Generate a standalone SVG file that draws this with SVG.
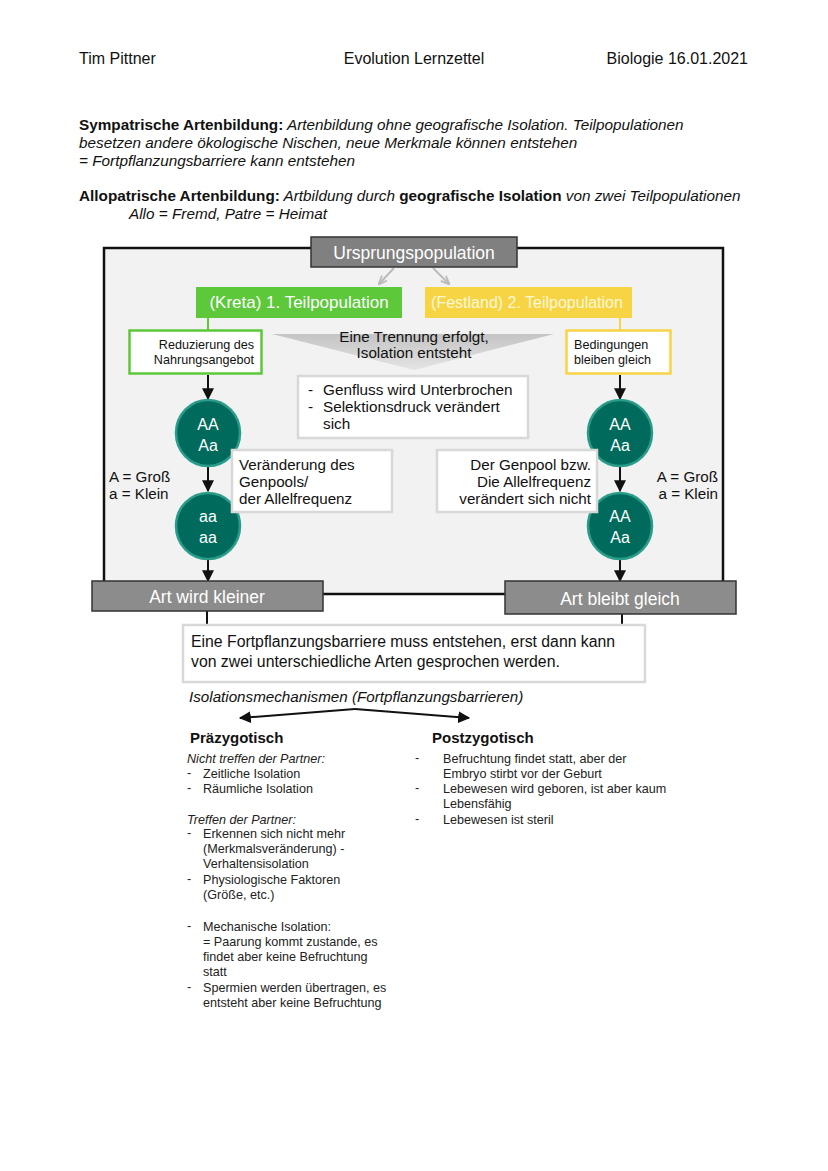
<svg xmlns="http://www.w3.org/2000/svg" width="828" height="1171" viewBox="0 0 828 1171">
<defs>
<style>
text{font-family:"Liberation Sans",Arial,Helvetica,sans-serif;fill:#111}
.h{font-size:16px}
.p{font-size:15.3px}
.b{font-weight:bold}
.i{font-style:italic}
.lst{font-size:12.6px;fill:#222}
.circ{fill:#006a5c;stroke:#2a9d8a;stroke-width:2.5}
.ct{font-size:16px;fill:#fff;text-anchor:middle}
.wbox{fill:#fff;stroke:#d8d8d8;stroke-width:2.5}
.gbox{fill:#8c8c8c;stroke:#333;stroke-width:1.5}
.gt{font-size:17.5px;fill:#fff;text-anchor:middle}
.tt{font-size:17px;fill:#fff;text-anchor:middle}
.m{font-size:15.2px}
.ln{stroke:#111;stroke-width:2;fill:none}
</style>
<marker id="ah2" viewBox="0 0 10 10" refX="9" refY="5" markerWidth="12" markerHeight="12" orient="auto" markerUnits="userSpaceOnUse">
<path d="M0,0 L10,5 L0,10 z" fill="#111"/>
</marker>
<marker id="ahg" viewBox="0 0 10 10" refX="9" refY="5" markerWidth="9" markerHeight="9" orient="auto" markerUnits="userSpaceOnUse">
<path d="M0,1 L10,5 L0,9" fill="none" stroke="#bbb" stroke-width="2"/>
</marker>
<linearGradient id="tri" x1="0" y1="0" x2="0" y2="1">
<stop offset="0" stop-color="#c4c4c4"/>
<stop offset="1" stop-color="#e4e4e4"/>
</linearGradient>
</defs>
<rect width="828" height="1171" fill="#fff"/>

<g id="header">
<text class="h" x="79" y="64">Tim Pittner</text>
<text class="h" x="414" y="64" text-anchor="middle">Evolution Lernzettel</text>
<text class="h" x="748" y="64" text-anchor="end">Biologie 16.01.2021</text>
</g>

<g id="intro">
<text class="p" x="79" y="130"><tspan class="b">Sympatrische Artenbildung:</tspan><tspan class="i"> Artenbildung ohne geografische Isolation. Teilpopulationen</tspan></text>
<text class="p i" x="79" y="148">besetzen andere ökologische Nischen, neue Merkmale können entstehen</text>
<text class="p i" x="79" y="166">= Fortpflanzungsbarriere kann entstehen</text>
<text class="p" x="79" y="201"><tspan class="b">Allopatrische Artenbildung:</tspan><tspan class="i"> Artbildung durch </tspan><tspan class="b">geografische Isolation</tspan><tspan class="i"> von zwei Teilpopulationen</tspan></text>
<text class="p i" x="129" y="219">Allo = Fremd, Patre = Heimat</text>
</g>

<g id="frame">
<rect x="104" y="248" width="619" height="346" fill="#f2f2f2" stroke="#111" stroke-width="2.5"/>
</g>

<g id="trennung">
<path d="M272,334 L554,334 L414,370 Z" fill="url(#tri)"/>
<text class="m" x="414" y="342" text-anchor="middle">Eine Trennung erfolgt,</text>
<text class="m" x="414" y="358" text-anchor="middle">Isolation entsteht</text>
</g>

<g id="connectors">
<line x1="394" y1="268" x2="379" y2="284" stroke="#bbb" stroke-width="2" marker-end="url(#ahg)"/>
<line x1="433" y1="268" x2="449" y2="284" stroke="#bbb" stroke-width="2" marker-end="url(#ahg)"/>
<line x1="208" y1="318" x2="208" y2="330" stroke="#5cc83a" stroke-width="2"/>
<line x1="620" y1="318" x2="620" y2="330" stroke="#f7d443" stroke-width="2"/>
<line class="ln" x1="208" y1="375" x2="208" y2="399" marker-end="url(#ah2)"/>
<line class="ln" x1="208" y1="467" x2="208" y2="491" marker-end="url(#ah2)"/>
<line class="ln" x1="208" y1="560" x2="208" y2="581" marker-end="url(#ah2)"/>
<line class="ln" x1="620" y1="375" x2="620" y2="399" marker-end="url(#ah2)"/>
<line class="ln" x1="620" y1="467" x2="620" y2="491" marker-end="url(#ah2)"/>
<line class="ln" x1="620" y1="560" x2="620" y2="581" marker-end="url(#ah2)"/>
<line class="ln" x1="207" y1="611" x2="207" y2="626"/>
<line class="ln" x1="622" y1="614" x2="622" y2="626"/>
<path class="ln" d="M355,709 L240,718" stroke-width="2.2" marker-end="url(#ah2)"/>
<path class="ln" d="M355,709 L469,718" stroke-width="2.2" marker-end="url(#ah2)"/>
</g>

<g id="ursprung">
<rect x="311" y="237" width="206" height="30" fill="#808080" stroke="#333" stroke-width="1.5"/>
<text class="gt" x="414" y="259">Ursprungspopulation</text>
</g>

<g id="teil1">
<rect x="196" y="287" width="206" height="31" fill="#5cc83a"/>
<text class="tt" x="299" y="308">(Kreta) 1. Teilpopulation</text>
</g>

<g id="teil2">
<rect x="425" y="287" width="207" height="31" fill="#f7d443"/>
<text class="tt" x="527" y="308" style="fill:#fff8d8;font-size:16px">(Festland) 2. Teilpopulation</text>
</g>

<g id="nahrung">
<rect x="129.5" y="330.5" width="132" height="43" fill="#fff" stroke="#5cc83a" stroke-width="2.5"/>
<text x="254" y="349" font-size="12.6" text-anchor="end">Reduzierung des</text>
<text x="254" y="364" font-size="12.6" text-anchor="end">Nahrungsangebot</text>
</g>

<g id="bedingungen">
<rect x="566.5" y="330.5" width="104" height="43" fill="#fff" stroke="#f7d443" stroke-width="2.5"/>
<text x="574" y="349" font-size="12.6">Bedingungen</text>
<text x="574" y="364" font-size="12.6">bleiben gleich</text>
</g>

<g id="genfluss">
<rect class="wbox" x="298" y="376" width="230" height="62"/>
<text x="308" y="395" font-size="15.3">-</text>
<text x="323" y="395" font-size="15.3">Genfluss wird Unterbrochen</text>
<text x="308" y="412" font-size="15.3">-</text>
<text x="323" y="412" font-size="15.3">Selektionsdruck verändert</text>
<text x="323" y="429" font-size="15.3">sich</text>
</g>

<g id="c1">
<ellipse class="circ" cx="208" cy="433" rx="32" ry="33"/>
<text class="ct" x="208" y="430">AA</text>
<text class="ct" x="208" y="451">Aa</text>
</g>
<g id="c2">
<ellipse class="circ" cx="208" cy="526" rx="32" ry="33"/>
<text class="ct" x="208" y="522">aa</text>
<text class="ct" x="208" y="543">aa</text>
</g>
<g id="c3">
<ellipse class="circ" cx="620" cy="433" rx="32" ry="33"/>
<text class="ct" x="620" y="430">AA</text>
<text class="ct" x="620" y="451">Aa</text>
</g>
<g id="c4">
<ellipse class="circ" cx="620" cy="526" rx="32" ry="33"/>
<text class="ct" x="620" y="522">AA</text>
<text class="ct" x="620" y="543">Aa</text>
</g>

<g id="legendL">
<text class="m" x="109" y="482">A = Groß</text>
<text class="m" x="109" y="499">a = Klein</text>
</g>
<g id="legendR">
<text class="m" x="718" y="482" text-anchor="end">A = Groß</text>
<text class="m" x="718" y="499" text-anchor="end">a = Klein</text>
</g>

<g id="veraenderung">
<rect class="wbox" x="232" y="450" width="160" height="62"/>
<text class="m" x="239" y="470">Veränderung des</text>
<text class="m" x="239" y="487">Genpools/</text>
<text class="m" x="239" y="504">der Allelfrequenz</text>
</g>

<g id="genpool">
<rect class="wbox" x="437" y="450" width="160" height="62"/>
<text class="m" x="591" y="470" text-anchor="end">Der Genpool bzw.</text>
<text class="m" x="591" y="487" text-anchor="end">Die Allelfrequenz</text>
<text class="m" x="591" y="504" text-anchor="end">verändert sich nicht</text>
</g>

<g id="kleiner">
<rect class="gbox" x="92" y="581" width="231" height="30"/>
<text class="gt" x="207" y="603">Art wird kleiner</text>
</g>
<g id="gleich">
<rect class="gbox" x="505" y="581" width="231" height="33"/>
<text class="gt" x="620" y="605">Art bleibt gleich</text>
</g>

<g id="barriere">
<rect class="wbox" x="183" y="625" width="462" height="57"/>
<text x="191" y="647" font-size="15.8">Eine Fortpflanzungsbarriere muss entstehen, erst dann kann</text>
<text x="191" y="667" font-size="15.8">von zwei unterschiedliche Arten gesprochen werden.</text>
</g>

<g id="isolation">
<text class="i m" x="189" y="702">Isolationsmechanismen (Fortpflanzungsbarrieren)</text>
</g>

<g id="prae">
<text class="b" x="190" y="743" font-size="15">Präzygotisch</text>
<text class="lst i" x="187" y="763">Nicht treffen der Partner:</text>
<text class="lst" x="187" y="777">-</text><text class="lst" x="203" y="778">Zeitliche Isolation</text>
<text class="lst" x="187" y="792">-</text><text class="lst" x="203" y="793">Räumliche Isolation</text>
<text class="lst i" x="187" y="824">Treffen der Partner:</text>
<text class="lst" x="187" y="837">-</text><text class="lst" x="203" y="838">Erkennen sich nicht mehr</text>
<text class="lst" x="203" y="853">(Merkmalsveränderung) -</text>
<text class="lst" x="203" y="868">Verhaltensisolation</text>
<text class="lst" x="187" y="883">-</text><text class="lst" x="203" y="884">Physiologische Faktoren</text>
<text class="lst" x="203" y="899">(Größe, etc.)</text>
<text class="lst" x="187" y="930">-</text><text class="lst" x="203" y="931">Mechanische Isolation:</text>
<text class="lst" x="203" y="946">= Paarung kommt zustande, es</text>
<text class="lst" x="203" y="961">findet aber keine Befruchtung</text>
<text class="lst" x="203" y="976">statt</text>
<text class="lst" x="187" y="991">-</text><text class="lst" x="203" y="992">Spermien werden übertragen, es</text>
<text class="lst" x="203" y="1007">entsteht aber keine Befruchtung</text>
</g>

<g id="post">
<text class="b" x="432" y="743" font-size="15">Postzygotisch</text>
<text class="lst" x="415" y="762">-</text><text class="lst" x="443" y="763">Befruchtung findet statt, aber der</text>
<text class="lst" x="443" y="778">Embryo stirbt vor der Geburt</text>
<text class="lst" x="415" y="792">-</text><text class="lst" x="443" y="793">Lebewesen wird geboren, ist aber kaum</text>
<text class="lst" x="443" y="808">Lebensfähig</text>
<text class="lst" x="415" y="823">-</text><text class="lst" x="443" y="824">Lebewesen ist steril</text>
</g>
</svg>
